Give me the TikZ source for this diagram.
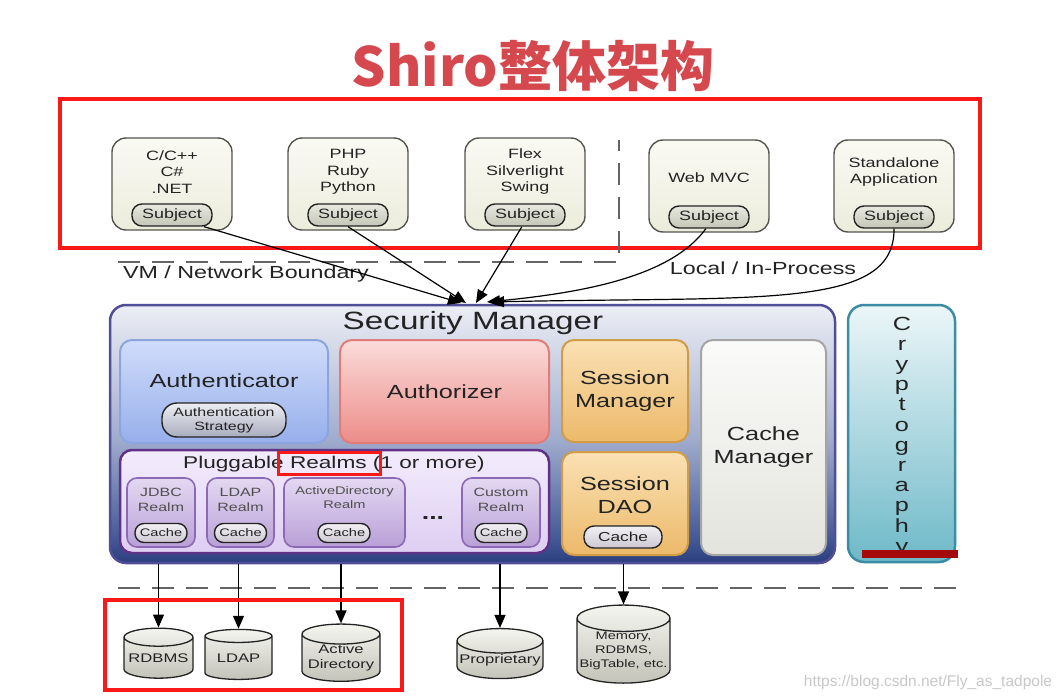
\documentclass[tikz,border=0pt]{standalone}
\usepackage{fontspec}
\usepackage{tikz}
\usepackage{xcolor}
\usetikzlibrary{shapes.geometric,arrows.meta,positioning}
\setmainfont{Liberation Sans}[FakeStretch=1.33]
\newfontfamily\cjk{Noto Sans CJK SC}
\newfontfamily\wmfont{Liberation Sans}
\definecolor{shirored}{RGB}{213,72,78}
\definecolor{frame}{RGB}{250,25,25}
\definecolor{ink}{RGB}{35,35,35}
\definecolor{clientline}{RGB}{85,85,80}
\definecolor{clienttop}{RGB}{250,250,244}
\definecolor{clientbot}{RGB}{236,236,220}
\definecolor{pilltop}{RGB}{232,233,224}
\definecolor{pillbot}{RGB}{196,198,182}
\definecolor{smline}{RGB}{80,78,150}
\definecolor{smtop}{RGB}{236,238,245}
\definecolor{smlt}{RGB}{160,172,205}
\definecolor{smmid}{RGB}{70,90,150}
\definecolor{smbot}{RGB}{42,62,128}
\definecolor{authline}{RGB}{140,165,225}
\definecolor{authtop}{RGB}{208,220,250}
\definecolor{authbot}{RGB}{150,175,235}
\definecolor{strattop}{RGB}{238,238,244}
\definecolor{stratbot}{RGB}{168,172,190}
\definecolor{authzline}{RGB}{225,125,120}
\definecolor{authztop}{RGB}{250,220,218}
\definecolor{authzbot}{RGB}{236,140,136}
\definecolor{sessline}{RGB}{210,155,70}
\definecolor{sesstop}{RGB}{250,225,180}
\definecolor{sessbot}{RGB}{236,185,105}
\definecolor{cacheline}{RGB}{165,165,165}
\definecolor{cachetop}{RGB}{250,250,248}
\definecolor{cachebot}{RGB}{228,228,222}
\definecolor{plugline}{RGB}{95,50,135}
\definecolor{plugtop}{RGB}{243,236,252}
\definecolor{plugbot}{RGB}{222,206,242}
\definecolor{realmline}{RGB}{140,105,180}
\definecolor{realmtop}{RGB}{228,216,242}
\definecolor{realmbot}{RGB}{185,160,215}
\definecolor{cpilltop}{RGB}{242,240,244}
\definecolor{cpillbot}{RGB}{205,200,210}
\definecolor{cryline}{RGB}{60,140,165}
\definecolor{crytop}{RGB}{236,246,248}
\definecolor{crybot}{RGB}{110,185,200}
\definecolor{bar}{RGB}{165,10,10}
\definecolor{dashgray}{RGB}{100,100,100}
\definecolor{storetop}{RGB}{245,245,240}
\definecolor{storebot}{RGB}{195,195,185}
\definecolor{wmgray}{RGB}{200,200,200}
\pgfdeclareverticalshading{smshade}{100bp}{color(0bp)=(smbot); color(25bp)=(smbot); color(30bp)=(smmid); color(49bp)=(smlt); color(75bp)=(smtop); color(100bp)=(smtop)}

\begin{document}
\begin{tikzpicture}[x=1pt, y=-1pt,
    client/.style={draw=clientline, line width=1.4pt, rounded corners=14pt, top color=clienttop, bottom color=clientbot, minimum width=120pt, minimum height=92pt},
    ctext/.style={font=\fontsize{13.5}{16.5}\selectfont, text=ink, align=center, inner sep=0pt},
    pill/.style={draw=ink, line width=1.4pt, rounded corners=10pt, top color=pilltop, bottom color=pillbot, minimum width=80pt, minimum height=22pt, inner sep=0pt, align=center, font=\fontsize{13.5}{16}\selectfont, text=ink},
    part/.style={line width=2pt, rounded corners=12pt, inner sep=0pt, align=center, font=\fontsize{19}{23}\selectfont, text=ink},
    big/.style={font=\fontsize{19}{23}\selectfont, text=ink, align=center, inner sep=0pt},
    realm/.style={draw=realmline, line width=1.6pt, rounded corners=10pt, top color=realmtop, bottom color=realmbot, minimum height=69pt, inner sep=0pt},
    rtext/.style={font=\fontsize{12}{15}\selectfont, text=ink!80, align=center, inner sep=0pt},
    cpill/.style={pill, minimum width=52pt, minimum height=19pt, rounded corners=9pt, top color=cpilltop, bottom color=cpillbot, font=\fontsize{11}{13}\selectfont},
    store/.style={cylinder, shape border rotate=90, aspect=0.3, draw=ink, line width=1.3pt, top color=storetop, bottom color=storebot, inner sep=0pt, align=center, font=\fontsize{12.5}{15}\selectfont, text=ink},
    link/.style={draw=black, line width=1.2pt, -{Triangle[length=13pt,width=11pt]}},
    bound/.style={draw=dashgray, line width=2.5pt, dash pattern=on 22pt off 12pt},
    lbl/.style={font=\fontsize{17.5}{20}\selectfont, text=ink, inner sep=0pt},
    redbox/.style={draw=frame, line width=4pt}
  ]
  \useasboundingbox (0,0) rectangle (1064,700);
  \fill[white] (0,0) rectangle (1064,700);
  \node[font=\cjk\bfseries\fontsize{54}{60}\selectfont, text=shirored] (ttl) at (533,66) {Shiro整体架构};
  \draw[redbox] (60,99) rectangle (980,248);

  \node[client] (cpp) at (172,184) {};
  \node[ctext] (cpptxt) at (172,172) {C/C++\\C\#\\.NET};
  \node[pill, above=4pt of cpp.south] (sub1) {Subject};
  \node[client] (php) at (348,184) {};
  \node[ctext] (phptxt) at (348,172) {PHP\\Ruby\\Python};
  \node[pill, above=4pt of php.south] (sub2) {Subject};
  \node[client] (flex) at (525,184) {};
  \node[ctext] (flextxt) at (525,172) {Flex\\Silverlight\\Swing};
  \node[pill, above=4pt of flex.south] (sub3) {Subject};
  \node[client] (web) at (709,186) {};
  \node[ctext] (webtxt) at (709,178) {Web MVC};
  \node[pill, above=4pt of web.south] (sub4) {Subject};
  \node[client] (app) at (894,186) {};
  \node[ctext] (apptxt) at (894,172) {Standalone\\Application};
  \node[pill, above=4pt of app.south] (sub5) {Subject};

  \draw[bound] (118,262) -- (619,262) -- (619,140);
  \node[lbl] (vmlbl) at (246,274) {VM / Network Boundary};
  \node[lbl] (locallbl) at (763,268) {Local / In-Process};

  \node[draw=smline, line width=2.5pt, rounded corners=16pt, shade, shading=smshade, minimum width=725pt, minimum height=258pt] (secmgr) at (472.5,434) {};
  \node[big, font=\fontsize{25}{30}\selectfont] (smtitle) at (473,323) {Security Manager};

  \node[part, draw=authline, top color=authtop, bottom color=authbot, minimum width=208pt, minimum height=103pt] (authc) at (224,391.5) {};
  \node[big] (authctxt) at (224,381) {Authenticator};
  \node[pill, minimum width=124pt, minimum height=34pt, rounded corners=15pt, top color=strattop, bottom color=stratbot, font=\fontsize{12}{14}\selectfont] (strat) at (224,420) {Authentication\\Strategy};
  \node[part, draw=authzline, top color=authztop, bottom color=authzbot, minimum width=209pt, minimum height=103pt] (authz) at (444.5,391.5) {Authorizer};
  \node[part, draw=sessline, top color=sesstop, bottom color=sessbot, minimum width=126pt, minimum height=102pt] (sessmgr) at (625,391) {Session\\Manager};
  \node[part, draw=sessline, top color=sesstop, bottom color=sessbot, minimum width=126pt, minimum height=103pt] (sdao) at (625,503.5) {};
  \node[big] (sdaotxt) at (625,495) {Session\\DAO};
  \node[pill, minimum width=78pt, top color=cpilltop, bottom color=cpillbot, font=\fontsize{13}{15}\selectfont] (sdaocache) at (623,537) {Cache};
  \node[part, draw=cacheline, top color=cachetop, bottom color=cachebot, minimum width=125pt, minimum height=215pt] (cachemgr) at (763.5,447.5) {Cache\\Manager};

  \node[part, draw=plugline, line width=2.5pt, top color=plugtop, bottom color=plugbot, minimum width=429pt, minimum height=103pt] (realms) at (334.5,501.5) {};
  \node[big, font=\fontsize{17}{20}\selectfont] (realmstxt) at (334,464) {Pluggable Realms (1 or more)};
  \node[realm, minimum width=68pt] (jdbc) at (161,512.5) {};
  \node[rtext] (jdbctxt) at (161,500) {JDBC\\Realm};
  \node[cpill] (jdbccache) at (161,533) {Cache};
  \node[realm, minimum width=67pt] (ldap) at (240.5,512.5) {};
  \node[rtext] (ldaptxt) at (240.5,500) {LDAP\\Realm};
  \node[cpill] (ldapcache) at (240.5,533) {Cache};
  \node[realm, minimum width=121pt] (ad) at (344.5,512.5) {};
  \node[rtext, font=\fontsize{11}{14}\selectfont] (adtxt) at (344.5,498) {ActiveDirectory\\Realm};
  \node[cpill] (adcache) at (344,533) {Cache};
  \node[big, font=\bfseries\fontsize{20}{20}\selectfont] (dots) at (433,518) {...};
  \node[realm, minimum width=78pt] (custom) at (501,512.5) {};
  \node[rtext] (customtxt) at (501,500) {Custom\\Realm};
  \node[cpill] (customcache) at (501,533) {Cache};
  \draw[redbox, line width=3pt] (278,452) rectangle (380,474);

  \node[draw=cryline, line width=2.5pt, rounded corners=16pt, top color=crytop, bottom color=crybot, minimum width=107pt, minimum height=257pt] (crypto) at (901.5,433.5) {};
  \foreach \ch [count=\i] in {C,r,y,p,t,o,g,r,a,p,h,y}
    \node[big, anchor=base] (cr\i) at (902,330+20.2*\i-20.2) {\ch};
  \fill[bar] (862,550) rectangle (958,558);

  \coordinate (in1) at (461,303);
  \coordinate (in2) at (466,303);
  \coordinate (in3) at (476,303);
  \coordinate (in4) at (487,302);
  \coordinate (in5) at (491,302);
  \draw[link] (sub1.-20) -- (in1);
  \draw[link] (sub2.south) -- (in2);
  \draw[link] (sub3.-105) -- (in3);
  \draw[link] (sub4.-105) .. controls (672,275) and (590,292) .. (in4);
  \draw[link] (sub5.south) .. controls (895,310) and (760,296) .. (in5);

  \draw[bound] (118,588) -- (960,588);
  \node[store, minimum width=69pt, minimum height=50pt] (rdbms) at (158.5,658) {RDBMS};
  \node[store, minimum width=67pt, minimum height=50pt] (ldapdb) at (238.5,658) {LDAP};
  \node[store, minimum width=78pt, minimum height=50pt] (addb) at (341,658) {Active\\Directory};
  \node[store, minimum width=86pt, minimum height=50pt] (propdb) at (500,660) {Proprietary};
  \node[store, minimum width=93pt, minimum height=58pt, font=\fontsize{11}{14}\selectfont] (memdb) at (623.5,651) {Memory,\\RDBMS,\\BigTable, etc.};
  \draw[link] (rdbms.north |- secmgr.south) -- (rdbms.north);
  \draw[link] (ldapdb.north |- secmgr.south) -- (ldapdb.north);
  \draw[link] (addb.north |- secmgr.south) -- (addb.north);
  \draw[link] (propdb.north |- secmgr.south) -- (propdb.north);
  \draw[link] (memdb.north |- secmgr.south) -- (memdb.north);
  \draw[redbox] (105,600) rectangle (402,690);

  \node[font=\wmfont\fontsize{15.5}{18}\selectfont, text=wmgray] (wm) at (928,682) {https://blog.csdn.net/Fly\_as\_tadpole};
\end{tikzpicture}
\end{document}
